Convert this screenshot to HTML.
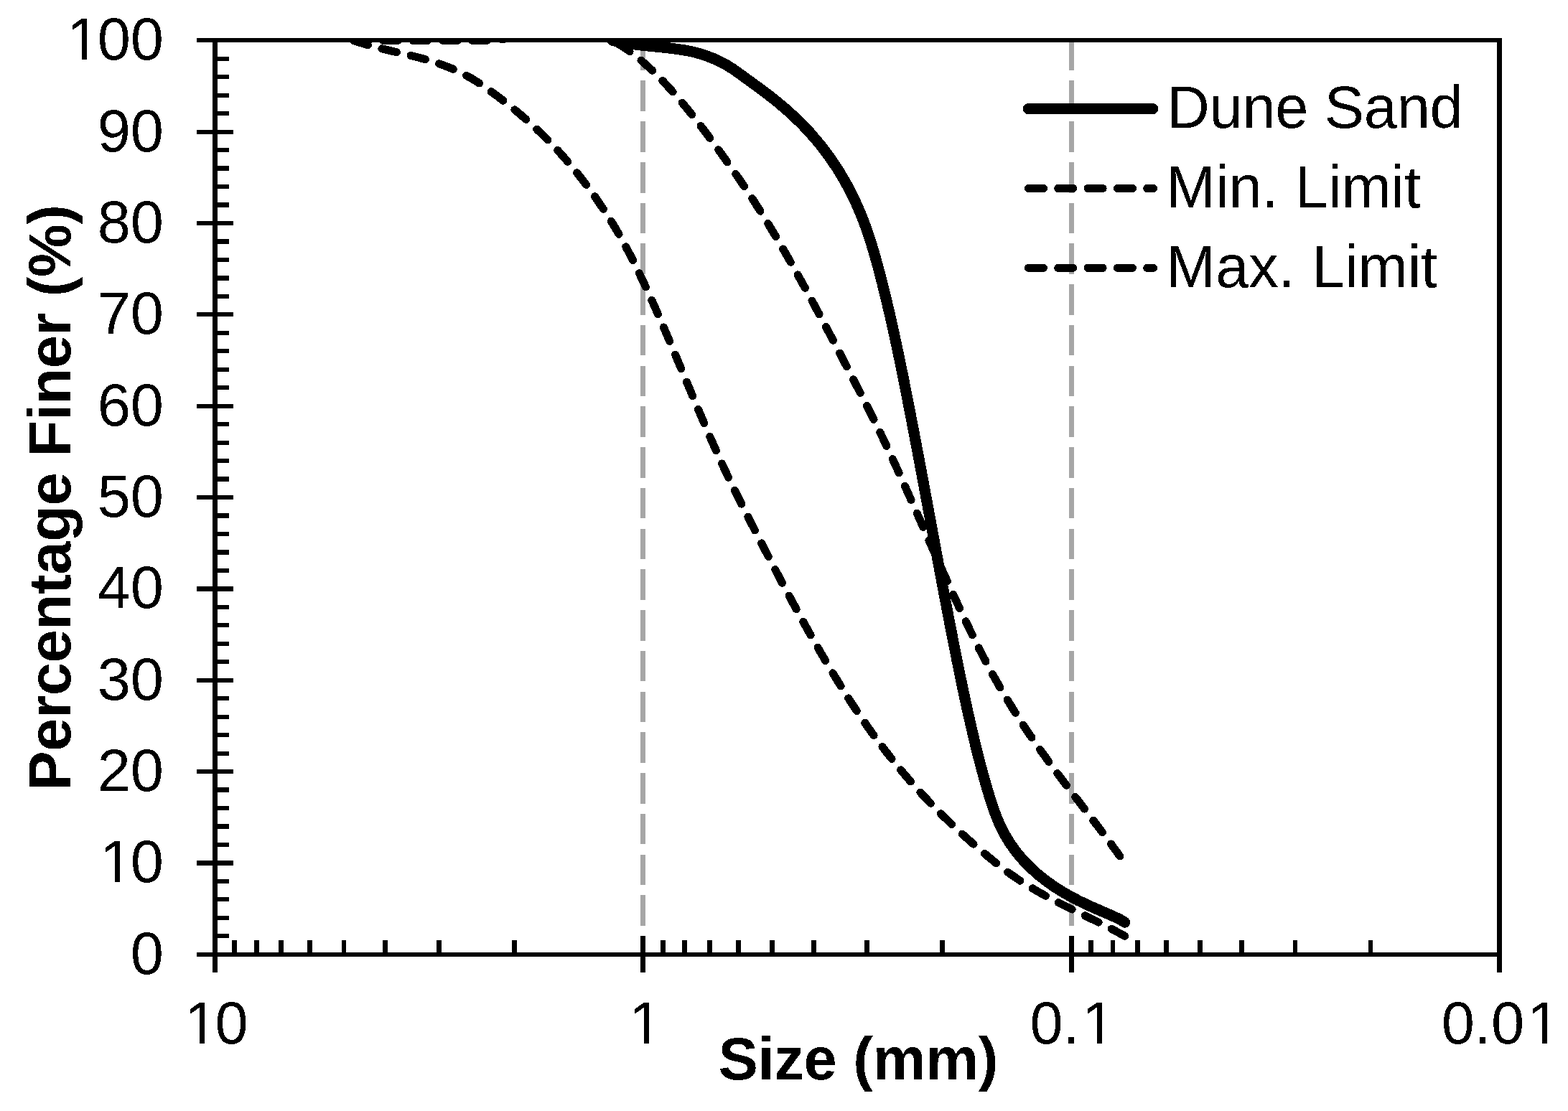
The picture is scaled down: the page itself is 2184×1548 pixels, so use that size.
<!DOCTYPE html>
<html lang="en"><head><meta charset="utf-8"><title>Particle size distribution</title>
<style>html,body{margin:0;padding:0;background:#fff}body{width:2184px;height:1548px;overflow:hidden}svg{display:block}text{font-family:'Liberation Sans', sans-serif;fill:#000}</style>
</head><body>
<svg width="2184" height="1548" viewBox="0 0 2184 1548" role="img" aria-label="Particle size distribution of dune sand against minimum and maximum grading limits">
<rect width="2184" height="1548" fill="#fff"/>
<g stroke="#A6A6A6" stroke-width="6.9" stroke-dasharray="42.6 14.14" fill="none" shape-rendering="crispEdges">
<line x1="895.83" y1="55.70" x2="895.83" y2="1329.80"/>
<line x1="1492.17" y1="55.70" x2="1492.17" y2="1329.80"/>
</g>
<defs><filter id="alias" x="-10%" y="-10%" width="120%" height="120%" color-interpolation-filters="sRGB"><feComponentTransfer><feFuncA type="discrete" tableValues="0 1"/></feComponentTransfer></filter><filter id="aliasL" x="0" y="0" width="1" height="1" color-interpolation-filters="sRGB"><feComponentTransfer><feFuncR type="discrete" tableValues="0 1"/><feFuncG type="discrete" tableValues="0 1"/><feFuncB type="discrete" tableValues="0 1"/></feComponentTransfer></filter></defs>
<defs><clipPath id="plot"><rect x="299.5" y="56" width="1789" height="1274"/></clipPath></defs>
<g clip-path="url(#plot)" shape-rendering="crispEdges">
<path d="M492.30 56.30 C552.68 77.52 613.34 77.52 673.45 119.97 C733.57 162.42 793.86 215.49 852.97 311.00 C912.08 406.51 969.02 576.31 1028.13 693.05 C1087.24 809.79 1147.81 926.52 1207.64 1011.42 C1267.48 1096.33 1327.32 1153.63 1387.16 1202.45 C1447.00 1251.27 1506.83 1270.37 1566.67 1304.33" fill="none" stroke="#000" stroke-width="11.05" stroke-linecap="round" stroke-linejoin="round" stroke-dasharray="21.05 20.23"/>
<path d="M492.30 56.30 C552.68 56.30 613.34 56.30 673.45 56.30 C733.57 56.30 793.86 24.46 852.97 56.30 C912.08 88.14 969.02 162.43 1028.13 247.33 C1087.24 332.23 1147.81 448.96 1207.64 565.70 C1267.48 682.44 1327.32 841.62 1387.16 947.75 C1447.00 1053.88 1506.83 1117.55 1566.67 1202.45" fill="none" stroke="#000" stroke-width="11.05" stroke-linecap="round" stroke-linejoin="round" stroke-dasharray="21.05 20.23"/>
<path d="M852.97 56.30 C911.35 71.28 969.02 57.11 1028.13 101.25 C1074.09 135.58 1161.12 187.08 1207.64 321.19 C1267.48 493.68 1327.32 975.55 1387.16 1136.23 C1427.87 1245.54 1546.32 1268.33 1566.67 1285.23" fill="none" stroke="#000" stroke-width="15.2" stroke-linecap="round" stroke-linejoin="round"/>
</g>
<g fill="#000" shape-rendering="crispEdges">
<rect x="274" y="53" width="1818" height="6"/>
<rect x="274" y="1327" width="1818" height="6"/>
<rect x="296" y="53" width="7" height="1302"/>
<rect x="2085" y="53" width="7" height="1302"/>
<rect x="296" y="1301.23" width="23" height="6.20"/>
<rect x="296" y="1275.76" width="23" height="6.20"/>
<rect x="296" y="1250.29" width="23" height="6.20"/>
<rect x="296" y="1224.82" width="23" height="6.20"/>
<rect x="274" y="1199.35" width="51" height="6.20"/>
<rect x="296" y="1173.88" width="23" height="6.20"/>
<rect x="296" y="1148.41" width="23" height="6.20"/>
<rect x="296" y="1122.94" width="23" height="6.20"/>
<rect x="296" y="1097.47" width="23" height="6.20"/>
<rect x="274" y="1072.00" width="51" height="6.20"/>
<rect x="296" y="1046.53" width="23" height="6.20"/>
<rect x="296" y="1021.06" width="23" height="6.20"/>
<rect x="296" y="995.59" width="23" height="6.20"/>
<rect x="296" y="970.12" width="23" height="6.20"/>
<rect x="274" y="944.65" width="51" height="6.20"/>
<rect x="296" y="919.18" width="23" height="6.20"/>
<rect x="296" y="893.71" width="23" height="6.20"/>
<rect x="296" y="868.24" width="23" height="6.20"/>
<rect x="296" y="842.77" width="23" height="6.20"/>
<rect x="274" y="817.30" width="51" height="6.20"/>
<rect x="296" y="791.83" width="23" height="6.20"/>
<rect x="296" y="766.36" width="23" height="6.20"/>
<rect x="296" y="740.89" width="23" height="6.20"/>
<rect x="296" y="715.42" width="23" height="6.20"/>
<rect x="274" y="689.95" width="51" height="6.20"/>
<rect x="296" y="664.48" width="23" height="6.20"/>
<rect x="296" y="639.01" width="23" height="6.20"/>
<rect x="296" y="613.54" width="23" height="6.20"/>
<rect x="296" y="588.07" width="23" height="6.20"/>
<rect x="274" y="562.60" width="51" height="6.20"/>
<rect x="296" y="537.13" width="23" height="6.20"/>
<rect x="296" y="511.66" width="23" height="6.20"/>
<rect x="296" y="486.19" width="23" height="6.20"/>
<rect x="296" y="460.72" width="23" height="6.20"/>
<rect x="274" y="435.25" width="51" height="6.20"/>
<rect x="296" y="409.78" width="23" height="6.20"/>
<rect x="296" y="384.31" width="23" height="6.20"/>
<rect x="296" y="358.84" width="23" height="6.20"/>
<rect x="296" y="333.37" width="23" height="6.20"/>
<rect x="274" y="307.90" width="51" height="6.20"/>
<rect x="296" y="282.43" width="23" height="6.20"/>
<rect x="296" y="256.96" width="23" height="6.20"/>
<rect x="296" y="231.49" width="23" height="6.20"/>
<rect x="296" y="206.02" width="23" height="6.20"/>
<rect x="274" y="180.55" width="51" height="6.20"/>
<rect x="296" y="155.08" width="23" height="6.20"/>
<rect x="296" y="129.61" width="23" height="6.20"/>
<rect x="296" y="104.14" width="23" height="6.20"/>
<rect x="296" y="78.67" width="23" height="6.20"/>
<rect x="892.43" y="1304" width="6.80" height="51"/>
<rect x="712.92" y="1310" width="6.80" height="20"/>
<rect x="607.91" y="1310" width="6.80" height="20"/>
<rect x="533.40" y="1310" width="6.80" height="20"/>
<rect x="475.61" y="1310" width="6.80" height="20"/>
<rect x="428.40" y="1310" width="6.80" height="20"/>
<rect x="388.47" y="1310" width="6.80" height="20"/>
<rect x="353.89" y="1310" width="6.80" height="20"/>
<rect x="323.39" y="1310" width="6.80" height="20"/>
<rect x="1488.77" y="1304" width="6.80" height="51"/>
<rect x="1309.25" y="1310" width="6.80" height="20"/>
<rect x="1204.24" y="1310" width="6.80" height="20"/>
<rect x="1129.74" y="1310" width="6.80" height="20"/>
<rect x="1071.95" y="1310" width="6.80" height="20"/>
<rect x="1024.73" y="1310" width="6.80" height="20"/>
<rect x="984.81" y="1310" width="6.80" height="20"/>
<rect x="950.22" y="1310" width="6.80" height="20"/>
<rect x="919.72" y="1310" width="6.80" height="20"/>
<rect x="1905.59" y="1310" width="6.80" height="20"/>
<rect x="1800.58" y="1310" width="6.80" height="20"/>
<rect x="1726.07" y="1310" width="6.80" height="20"/>
<rect x="1668.28" y="1310" width="6.80" height="20"/>
<rect x="1621.06" y="1310" width="6.80" height="20"/>
<rect x="1581.14" y="1310" width="6.80" height="20"/>
<rect x="1546.56" y="1310" width="6.80" height="20"/>
<rect x="1516.05" y="1310" width="6.80" height="20"/>
</g>
<g font-size="83">
<g filter="url(#aliasL)"><rect x="178.83" y="1290.80" width="52.17" height="74.00" fill="#fff"/>
<text x="181.83" y="1356.80">0</text>
</g>
<g filter="url(#aliasL)"><rect x="132.66" y="1163.45" width="98.34" height="74.00" fill="#fff"/>
<text x="135.66" y="1229.45" dx="3.47 -3.47">10</text>
<rect x="143.95" y="1221.75" width="16.05" height="9.20" fill="#fff"/>
<rect x="167.34" y="1221.75" width="15.40" height="9.20" fill="#fff"/>
</g>
<g filter="url(#aliasL)"><rect x="132.66" y="1036.10" width="98.34" height="74.00" fill="#fff"/>
<text x="135.66" y="1102.10">20</text>
</g>
<g filter="url(#aliasL)"><rect x="132.66" y="908.75" width="98.34" height="74.00" fill="#fff"/>
<text x="135.66" y="974.75">30</text>
</g>
<g filter="url(#aliasL)"><rect x="132.66" y="781.40" width="98.34" height="74.00" fill="#fff"/>
<text x="135.66" y="847.40">40</text>
</g>
<g filter="url(#aliasL)"><rect x="132.66" y="654.05" width="98.34" height="74.00" fill="#fff"/>
<text x="135.66" y="720.05">50</text>
</g>
<g filter="url(#aliasL)"><rect x="132.66" y="526.70" width="98.34" height="74.00" fill="#fff"/>
<text x="135.66" y="592.70">60</text>
</g>
<g filter="url(#aliasL)"><rect x="132.66" y="399.35" width="98.34" height="74.00" fill="#fff"/>
<text x="135.66" y="465.35">70</text>
</g>
<g filter="url(#aliasL)"><rect x="132.66" y="272.00" width="98.34" height="74.00" fill="#fff"/>
<text x="135.66" y="338.00">80</text>
</g>
<g filter="url(#aliasL)"><rect x="132.66" y="144.65" width="98.34" height="74.00" fill="#fff"/>
<text x="135.66" y="210.65">90</text>
</g>
<g filter="url(#aliasL)"><rect x="86.49" y="17.30" width="144.51" height="74.00" fill="#fff"/>
<text x="89.49" y="83.30" dx="3.64 -3.64">100</text>
<rect x="97.95" y="75.60" width="16.05" height="9.20" fill="#fff"/>
<rect x="121.34" y="75.60" width="15.40" height="9.20" fill="#fff"/>
</g>
<g filter="url(#aliasL)"><rect x="250.33" y="1388.00" width="98.34" height="74.00" fill="#fff"/>
<text x="253.33" y="1454.00" dx="3.8 -3.8">10</text>
<rect x="261.95" y="1446.30" width="16.05" height="9.20" fill="#fff"/>
<rect x="285.34" y="1446.30" width="15.40" height="9.20" fill="#fff"/>
</g>
<g filter="url(#aliasL)"><rect x="869.75" y="1388.00" width="52.17" height="74.00" fill="#fff"/>
<text x="872.75" y="1454.00" dx="3.38">1</text>
<rect x="880.95" y="1446.30" width="16.05" height="9.20" fill="#fff"/>
<rect x="904.34" y="1446.30" width="15.40" height="9.20" fill="#fff"/>
</g>
<g filter="url(#aliasL)"><rect x="1431.46" y="1388.00" width="121.42" height="74.00" fill="#fff"/>
<text x="1434.46" y="1454.00" dx="0 0 3.42">0.1</text>
<rect x="1511.95" y="1446.30" width="16.05" height="9.20" fill="#fff"/>
<rect x="1535.34" y="1446.30" width="15.40" height="9.20" fill="#fff"/>
</g>
<g filter="url(#aliasL)"><rect x="2004.70" y="1388.00" width="167.59" height="74.00" fill="#fff"/>
<text x="2007.70" y="1454.00" dx="0 0 0 4">0.01</text>
<rect x="2131.95" y="1446.30" width="16.05" height="9.20" fill="#fff"/>
<rect x="2155.34" y="1446.30" width="15.40" height="9.20" fill="#fff"/>
</g>
</g>
<text filter="url(#alias)" x="1195.40" y="1504.00" font-size="83" font-weight="bold" text-anchor="middle" textLength="390.0" lengthAdjust="spacing">Size (mm)</text>
<g filter="url(#alias)"><text transform="translate(98.00 693.40) rotate(-90)" font-size="83" font-weight="bold" text-anchor="middle" textLength="816.6" lengthAdjust="spacing">Percentage Finer (%)</text></g>
<line x1="1432.40" y1="151.60" x2="1605.60" y2="151.60" stroke="#000" stroke-width="15.2" stroke-linecap="round" shape-rendering="crispEdges"/>
<text filter="url(#alias)" x="1625.00" y="178.10" font-size="83" textLength="412.7" lengthAdjust="spacing">Dune Sand</text>
<line x1="1432.40" y1="262.45" x2="1606.50" y2="262.45" stroke="#000" stroke-width="11.05" stroke-linecap="round" shape-rendering="crispEdges" stroke-dasharray="21.05 20.28"/>
<text filter="url(#alias)" x="1624.00" y="288.95" font-size="83">Min. Limit</text>
<line x1="1432.40" y1="373.30" x2="1606.50" y2="373.30" stroke="#000" stroke-width="11.05" stroke-linecap="round" shape-rendering="crispEdges" stroke-dasharray="21.05 20.28"/>
<text filter="url(#alias)" x="1624.00" y="399.80" font-size="83">Max. Limit</text>
</svg>
</body></html>
